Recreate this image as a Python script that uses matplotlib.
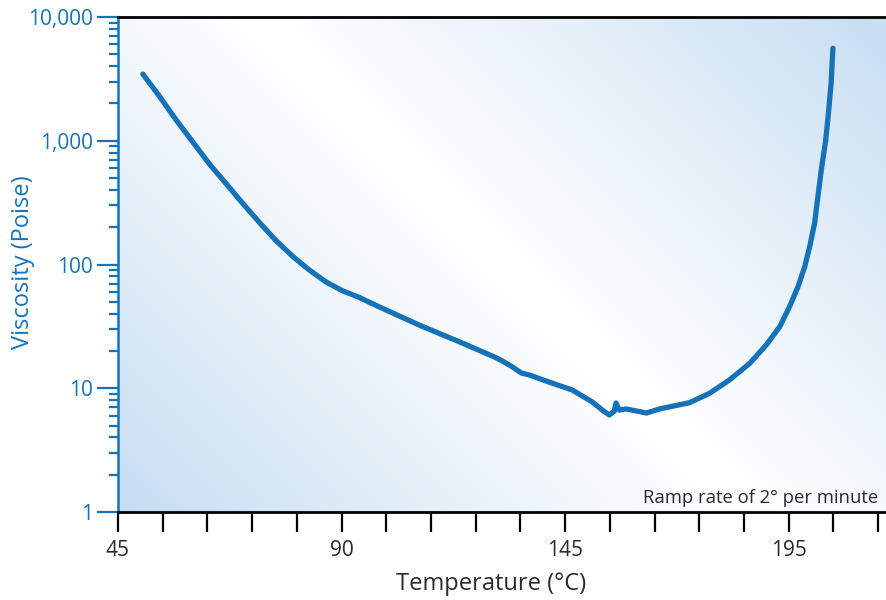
import numpy as np
import matplotlib
matplotlib.use("Agg")
import matplotlib.pyplot as plt
from matplotlib.colors import LinearSegmentedColormap
from matplotlib.ticker import FixedLocator, FuncFormatter, LogLocator, NullFormatter

plt.rcParams['font.family'] = ['Open Sans', 'DejaVu Sans']

# ---- data ----
temperature = [50.0, 53.4, 56.7, 60.1, 63.4, 66.8, 70.1, 73.5, 76.8, 80.2,
               83.5, 86.8, 90.2, 94.3, 99.3, 109.1, 119.7, 128.1, 130.0, 132.0,
               134.2, 136.2, 141.1, 146.6, 151.1, 153.3, 154.9, 156.0, 156.4, 157.1,
               158.7, 163.2, 166.1, 172.8, 177.3, 181.8, 186.3, 190.0, 193.0, 195.2,
               197.1, 198.6, 199.7, 200.8, 202.3, 203.3, 203.9, 204.5, 204.9]
viscosity = [3460, 2270, 1472, 972, 649, 448, 312, 218, 156, 116,
             90.3, 72.6, 61.4, 54.3, 45.4, 32.4, 23.2, 17.6, 16.3, 14.9,
             13.3, 12.8, 11.2, 9.68, 7.74, 6.67, 6.08, 6.55, 7.60, 6.67,
             6.80, 6.31, 6.80, 7.64, 9.10, 11.7, 15.9, 22.4, 31.4, 45.6,
             66.2, 96.0, 139, 215, 581, 1014, 1667, 2912, 5585]
x_tick_labels = [45, 90, 145, 195]
y_ticks = [1, 10, 100, 1000, 10000]
note = "Ramp rate of 2\u00b0 per minute"

BLUE = "#1673bb"
LINE = "#1571b8"
GREY = "#2a2a2a"

# labelled ticks are equally spaced on the axis (5 minor steps apart)
def fwd(t):
    t = np.asarray(t, float)
    return np.where(t < 90, (t - 45) / 9.0,
           np.where(t < 145, 5 + (t - 90) / 11.0, 10 + (t - 145) / 10.0))

def inv(p):
    p = np.asarray(p, float)
    return np.where(p < 5, 45 + 9.0 * p,
           np.where(p < 10, 90 + 11.0 * (p - 5), 145 + 10.0 * (p - 10)))

fig = plt.figure(figsize=(8.87, 6.0), dpi=100)
ax = fig.add_axes([118 / 887, 1 - 512 / 600, 1 - 118 / 887, (512 - 17) / 600])
ax.set_xscale('function', functions=(fwd, inv))
ax.set_yscale('log')

# background gradient (45 deg in pixels)
W, H = 769, 495
xx, yy = np.meshgrid(np.arange(W), np.arange(H)[::-1])
s = (xx + yy) / (W + H)
g = np.abs(s - 0.5) * 2
g = np.clip(g, 0, 1) ** 1.1
cmap = LinearSegmentedColormap.from_list("bg", ["#ffffff", "#c6ddf2"])
ax.imshow(g, cmap=cmap, vmin=0, vmax=1, extent=[0, 1, 0, 1], transform=ax.transAxes,
          aspect='auto', zorder=0, interpolation='bilinear')

ax.plot(temperature, viscosity, color=LINE, lw=3.8, solid_capstyle='round',
        solid_joinstyle='round', zorder=3)

ax.set_xlim(45, float(inv(17.2)))
ax.set_ylim(1, 10000)

# x ticks
ax.xaxis.set_major_locator(FixedLocator(x_tick_labels))
ax.xaxis.set_minor_locator(FixedLocator(list(inv(np.arange(0, 18)))))
ax.xaxis.set_major_formatter(FuncFormatter(lambda v, p: f"{v:.0f}"))
ax.xaxis.set_minor_formatter(NullFormatter())
ax.tick_params(axis='x', which='both', direction='out', length=14.5, width=1.6,
               color='black', labelsize=15, labelcolor=GREY, pad=6)

# y ticks
ax.yaxis.set_major_locator(FixedLocator(y_ticks))
ax.yaxis.set_minor_locator(LogLocator(base=10, subs=np.arange(2, 10), numticks=20))
ax.yaxis.set_major_formatter(FuncFormatter(lambda v, p: f"{v:,.0f}"))
ax.yaxis.set_minor_formatter(NullFormatter())
ax.tick_params(axis='y', which='major', direction='out', length=15, width=1.6,
               color=BLUE, labelsize=15, labelcolor=BLUE, pad=3)
ax.tick_params(axis='y', which='minor', direction='out', length=6.5, width=1.6,
               color=BLUE)

ax.spines['left'].set_color(BLUE)
ax.spines['left'].set_linewidth(1.8)
ax.spines['bottom'].set_color('black')
ax.spines['bottom'].set_linewidth(2.0)
ax.spines['top'].set_color('black')
ax.spines['top'].set_linewidth(2.0)
ax.spines['right'].set_visible(False)
for sp in ax.spines.values():
    sp.set_zorder(5)

ax.set_xlabel("Temperature (\u00b0C)", fontsize=17, color=GREY)
ax.xaxis.set_label_coords((491 - 118) / 769, (512 - 572) / 495)
ax.set_ylabel("Viscosity (Poise)", fontsize=17, color=BLUE)
ax.yaxis.set_label_coords((35 - 118) / 769, (512 - 262) / 495)

ax.text(878 / 887, 1 - 503 / 600, note, transform=fig.transFigure, ha='right',
        va='baseline', fontsize=13.3, color=GREY, zorder=6)

fig.savefig("out.png", dpi=100)
